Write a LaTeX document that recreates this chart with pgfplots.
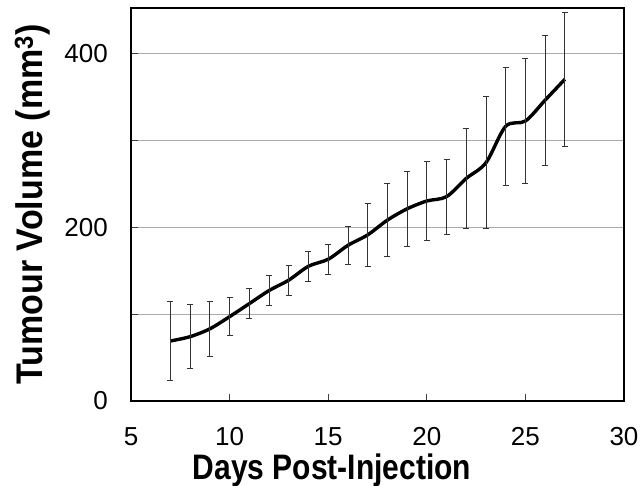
\documentclass[border=0pt]{standalone}
\usepackage{fontspec}
\setmainfont{Liberation Sans}
\usepackage{pgfplots}
\pgfplotsset{compat=1.18}
\begin{document}
\begin{tikzpicture}
\begin{axis}[
  name=ax,
  scale only axis,
  width=493pt, height=393pt,
  xmin=5, xmax=30, ymin=0, ymax=452,
  xtick={5,10,...,30},
  ytick={0,100,...,400},
  yticklabels={0,,200,,400},
  ymajorgrids,
  grid style={black!33, line width=0.8pt},
  tick align=inside,
  xtick pos=bottom, ytick pos=left,
  major tick length=7pt,
  tick style={black!75, line width=0.8pt},
  axis line style={line width=1.6pt},
  /pgf/number format/assume math mode=true,
  ticklabel style={font=\fontsize{26}{26}\selectfont, inner sep=0pt},
  xticklabel style={anchor=base, yshift=-45pt},
  yticklabel style={anchor=east, xshift=-23pt},
  xlabel={\scalebox{1}[1.18]{Days Post-Injection}},
  ylabel={\scalebox{1}[1.09]{Tumour Volume (mm\textsuperscript{3})}},
  label style={font=\fontsize{30}{30}\selectfont\bfseries, inner sep=0pt},
  xlabel style={at={(rel axis cs:0,0)}, anchor=base, xshift=201pt, yshift=-79pt},
  ylabel style={at={([xshift=-98.5pt]rel axis cs:0,0.5)}, anchor=center,
    font=\fontsize{34}{34}\selectfont\bfseries},
]
\addplot[black, line width=3.4pt, smooth,
  error bars/.cd, y dir=both, y explicit,
  error bar style={black!80, line width=0.8pt},
  error mark options={rotate=90, mark size=3pt, line width=0.8pt, black!80}]
coordinates {
  (7,69)   +- (0,45)
  (8,74)   +- (0,37)
  (9,83)   +- (0,32)
  (10,97)  +- (0,22)
  (11,112) +- (0,17)
  (12,127) +- (0,17)
  (13,139) +- (0,17)
  (14,155) +- (0,17)
  (15,163) +- (0,17)
  (16,179) +- (0,22)
  (17,191) +- (0,36)
  (18,208) +- (0,42)
  (19,221) +- (0,43)
  (20,230) +- (0,45)
  (21,235) +- (0,43)
  (22,256) +- (0,57)
  (23,274) +- (0,76)
  (24,316) +- (0,68)
  (25,322) +- (0,72)
  (26,346) +- (0,75)
  (27,370) +- (0,77)
};
\end{axis}
\pgfresetboundingbox
\path[use as bounding box] ([shift={(-131pt,-85pt)}]ax.south west) rectangle ++(641pt,486pt);
\end{tikzpicture}
\end{document}
